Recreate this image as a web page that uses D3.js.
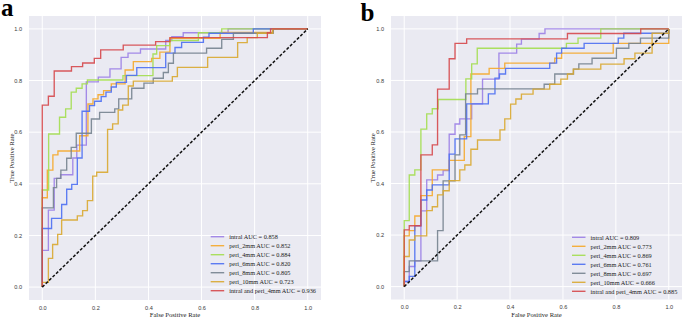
<!DOCTYPE html>
<html>
<head>
<meta charset="utf-8">
<script src="https://cdn.jsdelivr.net/npm/d3@7"></script>
<style>
  body { margin: 0; background: #fff; }
</style>
</head>
<body>
<div id="chart"></div>
<script>
// series names / colours shared by both panels
const seriesNames = ['intral', 'peri_2mm', 'peri_4mm', 'peri_6mm', 'peri_8mm', 'peri_10mm', 'intral and peri_4mm'];
const seriesColors = ['#9b7fe6', '#f5a82a', '#a3de4f', '#4d6ff2', '#75838f', '#d9a830', '#d6484b'];
const aucA = ['0.858', '0.852', '0.884', '0.820', '0.805', '0.723', '0.936'];
const aucB = ['0.809', '0.773', '0.869', '0.761', '0.697', '0.666', '0.885'];
const tickValues = [0, 0.2, 0.4, 0.6, 0.8, 1.0];

// ROC points [fpr, tpr] (tops of each vertical run), panel a
const a_intral = [[0,0],[0,0.142],[0.023,0.298],[0.045,0.421],[0.069,0.435],[0.115,0.5],[0.13,0.55],[0.166,0.795],[0.211,0.813],[0.255,0.845],[0.297,0.89],[0.323,0.906],[0.37,0.922],[0.465,0.955],[0.488,0.97],[0.531,0.985],[0.70,1.0],[1,1]];
const a_peri2 = [[0,0],[0,0.346],[0.019,0.453],[0.04,0.512],[0.059,0.527],[0.141,0.586],[0.172,0.709],[0.191,0.729],[0.21,0.745],[0.231,0.761],[0.26,0.787],[0.312,0.841],[0.343,0.873],[0.412,0.886],[0.443,0.91],[0.481,0.964],[0.67,0.986],[0.87,1.0],[1,1]];
const a_peri4 = [[0,0],[0,0.376],[0.024,0.593],[0.065,0.658],[0.088,0.69],[0.109,0.755],[0.128,0.77],[0.15,0.787],[0.17,0.802],[0.304,0.819],[0.417,0.903],[0.431,0.935],[0.48,0.955],[0.588,0.985],[0.676,1.0],[1,1]];
const a_peri6 = [[0,0],[0,0.227],[0.035,0.266],[0.073,0.32],[0.092,0.379],[0.111,0.398],[0.132,0.50],[0.15,0.681],[0.178,0.703],[0.197,0.72],[0.222,0.738],[0.24,0.755],[0.26,0.775],[0.279,0.793],[0.317,0.82],[0.356,0.85],[0.465,0.906],[0.5,0.928],[0.525,0.948],[0.607,0.968],[0.628,0.983],[0.795,1.0],[1,1]];
const a_peri8 = [[0,0],[0,0.307],[0.042,0.385],[0.054,0.421],[0.07,0.453],[0.092,0.499],[0.109,0.541],[0.128,0.596],[0.185,0.651],[0.216,0.677],[0.273,0.69],[0.288,0.729],[0.337,0.77],[0.383,0.79],[0.418,0.809],[0.456,0.831],[0.475,0.867],[0.494,0.906],[0.619,0.925],[0.676,0.96],[0.72,0.983],[0.87,1.0],[1,1]];
const a_peri10 = [[0,0],[0,0.018],[0.023,0.111],[0.039,0.165],[0.058,0.204],[0.073,0.26],[0.132,0.276],[0.152,0.296],[0.17,0.335],[0.19,0.43],[0.205,0.445],[0.246,0.611],[0.265,0.632],[0.286,0.686],[0.303,0.705],[0.324,0.779],[0.343,0.798],[0.49,0.815],[0.509,0.851],[0.623,0.89],[0.736,0.947],[0.772,0.966],[0.81,0.983],[0.868,1.0],[1,1]];
const a_combo = [[0,0],[0,0.705],[0.023,0.739],[0.045,0.837],[0.11,0.854],[0.152,0.868],[0.196,0.886],[0.22,0.919],[0.305,0.937],[0.427,0.951],[0.481,0.966],[0.848,0.985],[0.86,1.0],[1,1]];

// panel b
const b_intral = [[0,0],[0,0.02],[0.019,0.078],[0.04,0.1],[0.063,0.294],[0.085,0.414],[0.126,0.433],[0.147,0.45],[0.17,0.591],[0.192,0.631],[0.21,0.651],[0.255,0.709],[0.296,0.805],[0.358,0.906],[0.425,0.941],[0.443,0.96],[0.51,0.982],[0.532,1.0],[1,1]];
const b_peri2 = [[0,0],[0,0.197],[0.019,0.217],[0.04,0.274],[0.063,0.353],[0.106,0.453],[0.17,0.49],[0.227,0.582],[0.252,0.825],[0.321,0.847],[0.38,0.867],[0.569,0.886],[0.595,0.906],[0.79,0.944],[1,1]];
const b_peri4 = [[0,0],[0,0.256],[0.019,0.433],[0.04,0.453],[0.063,0.611],[0.085,0.67],[0.106,0.69],[0.128,0.726],[0.233,0.806],[0.255,0.864],[0.276,0.925],[0.613,0.944],[0.657,0.964],[0.743,1.0],[1,1]];
const b_peri6 = [[0,0],[0,0.02],[0.019,0.04],[0.04,0.236],[0.063,0.336],[0.085,0.375],[0.106,0.395],[0.17,0.514],[0.192,0.573],[0.236,0.709],[0.318,0.748],[0.343,0.809],[0.36,0.825],[0.383,0.847],[0.55,0.867],[0.576,0.906],[0.595,0.925],[0.68,0.944],[0.809,0.964],[0.83,0.983],[1,1]];
const b_peri8 = [[0,0],[0,0.058],[0.019,0.1],[0.126,0.217],[0.147,0.41],[0.192,0.511],[0.21,0.589],[0.232,0.748],[0.277,0.767],[0.529,0.785],[0.569,0.825],[0.64,0.844],[0.66,0.864],[0.71,0.886],[0.802,0.925],[0.849,0.944],[0.893,0.964],[1,1]];
const b_peri10 = [[0,0],[0,0.117],[0.019,0.181],[0.04,0.197],[0.085,0.295],[0.106,0.31],[0.126,0.356],[0.147,0.372],[0.17,0.411],[0.21,0.453],[0.229,0.472],[0.252,0.533],[0.277,0.569],[0.362,0.608],[0.38,0.651],[0.402,0.708],[0.422,0.728],[0.443,0.747],[0.487,0.766],[0.55,0.785],[0.592,0.805],[0.617,0.825],[0.639,0.844],[0.743,0.863],[0.831,0.884],[0.872,0.906],[0.937,0.983],[1,1]];
const b_combo = [[0,0],[0,0.22],[0.019,0.236],[0.063,0.511],[0.106,0.55],[0.126,0.766],[0.17,0.884],[0.192,0.944],[0.236,0.961],[0.617,0.982],[0.894,1.0],[1,1]];

const W = 685, H = 319;

const svg = d3.select('#chart').append('svg')
    .attr('width', W)
    .attr('height', H)
    .style('font-family', 'Liberation Serif, Times New Roman, serif');

svg.append('rect').attr('width', W).attr('height', H).attr('fill', '#fff');

function drawPanel(opts) {
    var x = d3.scaleLinear().domain([-0.05, 1.05]).range([opts.left, opts.right]);
    var y = d3.scaleLinear().domain([-0.05, 1.05]).range([opts.bottom, opts.top]);
    var g = svg.append('g');

    g.append('rect')
        .attr('x', opts.left).attr('y', opts.top)
        .attr('width', opts.right - opts.left)
        .attr('height', opts.bottom - opts.top)
        .attr('fill', '#eaeaf2');

    // grid
    g.selectAll('.vgrid').data(tickValues).join('line')
        .attr('class', 'vgrid')
        .attr('x1', d => x(d)).attr('x2', d => x(d))
        .attr('y1', opts.top).attr('y2', opts.bottom)
        .attr('stroke', '#fff').attr('stroke-width', 1);
    g.selectAll('.hgrid').data(tickValues).join('line')
        .attr('class', 'hgrid')
        .attr('y1', d => y(d)).attr('y2', d => y(d))
        .attr('x1', opts.left).attr('x2', opts.right)
        .attr('stroke', '#fff').attr('stroke-width', 1);

    // tick labels (no tick marks, seaborn darkgrid)
    var xAxis = g.append('g')
        .attr('transform', `translate(0,${opts.bottom + 3})`)
        .call(d3.axisBottom(x).tickValues(tickValues).tickFormat(d3.format('.1f')).tickSize(0));
    var yAxis = g.append('g')
        .attr('transform', `translate(${opts.left - 4},0)`)
        .call(d3.axisLeft(y).tickValues(tickValues).tickFormat(d3.format('.1f')).tickSize(0));
    [xAxis, yAxis].forEach(ax => {
        ax.select('.domain').remove();
        ax.selectAll('text')
            .style('font-family', 'Liberation Sans, Arial, sans-serif')
            .style('font-size', '5.6px')
            .attr('fill', '#3a3a3a');
    });
    xAxis.selectAll('text').attr('dy', '0.71em');

    g.append('text')
        .attr('x', (x(0) + x(1)) / 2).attr('y', 316.5)
        .attr('text-anchor', 'middle')
        .style('font-size', '6.6px').attr('fill', '#222')
        .text('False Positive Rate');
    g.append('text')
        .attr('transform', `translate(${opts.ylabelX},${(opts.top + opts.bottom) / 2}) rotate(-90)`)
        .attr('text-anchor', 'middle')
        .style('font-size', '6.6px').attr('fill', '#222')
        .text('True Positive Rate');

    var line = d3.line()
        .x(d => x(d[0]))
        .y(d => y(d[1]))
        .curve(d3.curveStepAfter);

    g.append('g').selectAll('path')
        .data(opts.curves)
        .join('path')
        .attr('d', d => line(d))
        .attr('fill', 'none')
        .attr('stroke', (d, i) => seriesColors[i])
        .attr('stroke-width', 1.35)
        .attr('stroke-opacity', 0.9);

    // chance line
    g.append('path')
        .attr('d', d3.line().x(d => x(d)).y(d => y(d))([0, 1]))
        .attr('stroke', '#111')
        .attr('stroke-width', 1.5)
        .attr('stroke-dasharray', '3,1.8')
        .attr('fill', 'none');

    // legend
    var leg = g.append('g');
    seriesNames.forEach((name, i) => {
        var ly = opts.legendY + i * 9;
        leg.append('line')
            .attr('x1', opts.legendX).attr('x2', opts.legendX + 13.5)
            .attr('y1', ly).attr('y2', ly)
            .attr('stroke', seriesColors[i]).attr('stroke-width', 1.4)
            .attr('stroke-opacity', 0.9);
        leg.append('text')
            .attr('x', opts.legendX + 18.5).attr('y', ly)
            .attr('dy', '0.35em')
            .style('font-size', '6.3px').attr('fill', '#222')
            .text(`${name} AUC = ${opts.auc[i]}`);
    });

    svg.append('text')
        .attr('x', opts.labelX).attr('y', opts.labelY)
        .style('font-size', '25px').style('font-weight', 'bold')
        .attr('fill', '#000')
        .text(opts.label);
}

drawPanel({
    left: 29, right: 321, top: 16, bottom: 300,
    curves: [a_intral, a_peri2, a_peri4, a_peri6, a_peri8, a_peri10, a_combo],
    auc: aucA, label: 'a', labelX: 1, labelY: 15.5,
    ylabelX: 13.5, legendX: 210.7, legendY: 236.7
});

drawPanel({
    left: 391, right: 682, top: 16, bottom: 299.5,
    curves: [b_intral, b_peri2, b_peri4, b_peri6, b_peri8, b_peri10, b_combo],
    auc: aucB, label: 'b', labelX: 360.5, labelY: 20.5,
    ylabelX: 375, legendX: 572, legendY: 237.3
});
</script>
</body>
</html>
